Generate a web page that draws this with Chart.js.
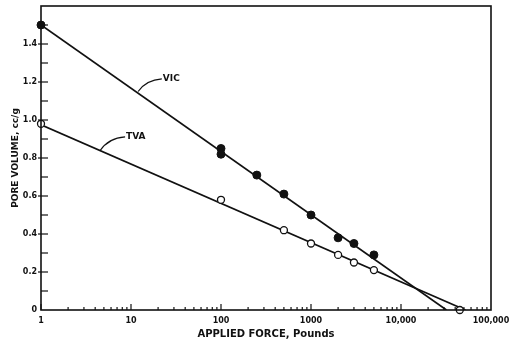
<!DOCTYPE html>
<html>
<head>
<meta charset="utf-8">
<script src="https://cdn.jsdelivr.net/npm/chart.js@4.4.1/dist/chart.umd.min.js"></script>
<style>
  html, body { margin: 0; padding: 0; background: #fff; }
  #wrap { width: 513px; height: 344px; }
</style>
</head>
<body>
<div id="wrap"><canvas id="chart"></canvas></div>
<script>
// data
const forceVIC = [1, 100, 100, 250, 500, 1000, 2000, 3000, 5000];
const poreVIC  = [1.50, 0.85, 0.82, 0.71, 0.61, 0.50, 0.38, 0.35, 0.29];
const forceTVA = [1, 100, 500, 1000, 2000, 3000, 5000, 45000];
const poreTVA  = [0.98, 0.58, 0.42, 0.35, 0.29, 0.25, 0.21, 0.0];

// fitted straight lines (semi-log)
const fitForceVIC = [1, 32000];
const fitPoreVIC  = [1.50, 0];
const fitForceTVA = [1, 52000];
const fitPoreTVA  = [0.975, 0];

const xTickValues = [1, 10, 100, 1000, 10000, 100000];
const xTickLabels = ['1', '10', '100', '1000', '10,000', '100,000'];
const yTickValues = [0, 0.2, 0.4, 0.6, 0.8, 1.0, 1.2, 1.4];
const yTickLabels = ['0', '0.2', '0.4', '0.6', '0.8', '1.0', '1.2', '1.4'];

// curve labels with their leader lines (data coords)
const curveNotes = [
  { text: 'VIC', from: [12, 1.15], to: [22, 1.216] },
  { text: 'TVA', from: [4.5, 0.837], to: [8.6, 0.911] }
];

function pts(xs, ys) {
  return xs.map((x, i) => ({ x: x, y: ys[i] }));
}

const ink = '#111';

// frame, inside ticks and curve labels
const framePlugin = {
  id: 'frame',
  afterDraw(chart) {
    const ctx = chart.ctx;
    const a = chart.chartArea;
    const xs = chart.scales.x;
    const ys = chart.scales.y;
    ctx.save();
    ctx.strokeStyle = ink;
    ctx.lineWidth = 1.6;
    ctx.strokeRect(a.left, a.top, a.right - a.left, a.bottom - a.top);

    // x ticks: decades long, 2..9 short
    ctx.lineWidth = 1.2;
    for (let d = 0; d < 5; d++) {
      for (let m = 1; m < 10; m++) {
        const px = xs.getPixelForValue(m * Math.pow(10, d));
        const len = m === 1 ? 6 : 3;
        ctx.beginPath();
        ctx.moveTo(px, a.bottom);
        ctx.lineTo(px, a.bottom - len);
        ctx.stroke();
      }
    }

    // y ticks every 0.1, majors every 0.2
    for (let i = 1; i < 16; i++) {
      const py = ys.getPixelForValue(i / 10);
      const major = i % 2 === 0;
      ctx.beginPath();
      ctx.moveTo(a.left - (major ? 3 : 0), py);
      ctx.lineTo(a.left + 7, py);
      ctx.stroke();
    }

    // curve labels
    ctx.fillStyle = ink;
    ctx.font = 'bold 9px "DejaVu Sans"';
    ctx.textBaseline = 'middle';
    ctx.lineWidth = 1.2;
    curveNotes.forEach(n => {
      const x0 = xs.getPixelForValue(n.from[0]);
      const y0 = ys.getPixelForValue(n.from[1]);
      const x1 = xs.getPixelForValue(n.to[0]);
      const y1 = ys.getPixelForValue(n.to[1]);
      ctx.beginPath();
      ctx.moveTo(x0, y0);
      ctx.quadraticCurveTo(x0 + (x1 - x0) * 0.35, y1 + 1, x1, y1);
      ctx.stroke();
      ctx.fillText(n.text, x1 + 1, y1);
    });
    ctx.restore();
  }
};

new Chart(document.getElementById('chart'), {
  type: 'scatter',
  data: {
    datasets: [
      {
        type: 'line',
        label: 'VIC fit',
        data: pts(fitForceVIC, fitPoreVIC),
        borderColor: ink,
        borderWidth: 1.7,
        pointRadius: 0,
        fill: false,
        order: 2
      },
      {
        type: 'line',
        label: 'TVA fit',
        data: pts(fitForceTVA, fitPoreTVA),
        borderColor: ink,
        borderWidth: 1.7,
        pointRadius: 0,
        fill: false,
        order: 2
      },
      {
        label: 'VIC',
        data: pts(forceVIC, poreVIC),
        pointRadius: 4,
        pointBackgroundColor: ink,
        pointBorderColor: ink,
        pointBorderWidth: 1,
        clip: false,
        order: 1
      },
      {
        label: 'TVA',
        data: pts(forceTVA, poreTVA),
        pointRadius: 3.5,
        pointBackgroundColor: '#fff',
        pointBorderColor: ink,
        pointBorderWidth: 1.3,
        clip: false,
        order: 1
      }
    ]
  },
  options: {
    responsive: true,
    maintainAspectRatio: false,
    animation: false,
    events: [],
    layout: { padding: { left: 0, right: 22, top: 6, bottom: 0 } },
    plugins: {
      legend: { display: false },
      tooltip: { enabled: false }
    },
    scales: {
      x: {
        type: 'logarithmic',
        min: 1,
        max: 100000,
        grid: { display: false, drawTicks: false },
        border: { display: false },
        afterBuildTicks(scale) {
          scale.ticks = xTickValues.map(v => ({ value: v }));
        },
        afterFit(scale) {
          scale.height = 34;
          scale.paddingLeft = 0;
          scale.paddingRight = 0;
        },
        ticks: {
          autoSkip: false,
          maxRotation: 0,
          padding: 6,
          color: ink,
          font: { family: 'DejaVu Sans', size: 8, weight: 'bold' },
          callback(value) {
            const i = xTickValues.indexOf(value);
            return i >= 0 ? xTickLabels[i] : '';
          }
        },
        title: {
          display: true,
          text: 'APPLIED FORCE, Pounds',
          color: ink,
          font: { family: 'DejaVu Sans', size: 10, weight: 'bold' },
          padding: { top: 0, bottom: 4 }
        }
      },
      y: {
        type: 'linear',
        min: 0,
        max: 1.6,
        grid: { display: false, drawTicks: false },
        border: { display: false },
        afterBuildTicks(scale) {
          scale.ticks = yTickValues.map(v => ({ value: v }));
        },
        afterFit(scale) {
          scale.width = 41;
          scale.paddingTop = 0;
          scale.paddingBottom = 0;
        },
        ticks: {
          autoSkip: false,
          padding: 4,
          color: ink,
          font: { family: 'DejaVu Sans', size: 8, weight: 'bold' },
          callback(value) {
            const i = yTickValues.findIndex(v => Math.abs(v - value) < 1e-6);
            return i >= 0 ? yTickLabels[i] : '';
          }
        },
        title: {
          display: true,
          text: 'PORE VOLUME, cc/g',
          color: ink,
          font: { family: 'DejaVu Sans', size: 9, weight: 'bold' },
          padding: { top: 10, bottom: 0 }
        }
      }
    }
  },
  plugins: [framePlugin]
});
</script>
</body>
</html>
